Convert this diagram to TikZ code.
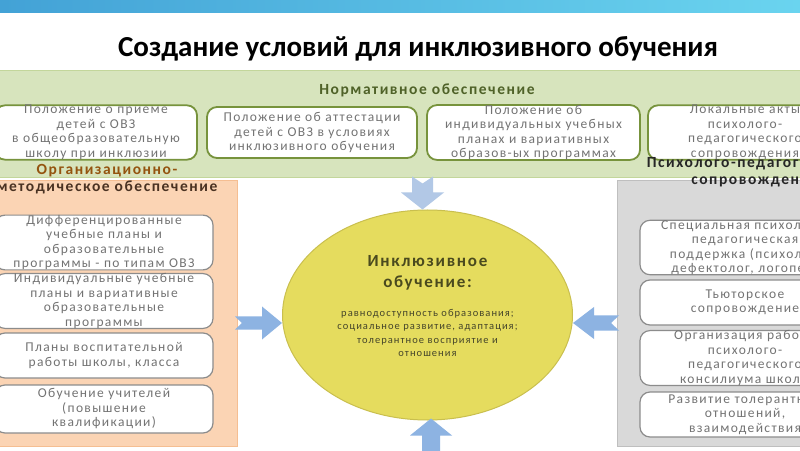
\documentclass[tikz,border=0pt]{standalone}
\usepackage{fontspec}
\setmainfont{Carlito}
\newfontfamily\spacedfont[LetterSpace=10]{Carlito}
\usetikzlibrary{shapes.geometric}

\definecolor{barleft}{HTML}{43A2D6}
\definecolor{barright}{HTML}{6AD4EF}
\definecolor{normfill}{HTML}{D7E4BD}
\definecolor{normline}{HTML}{C3D69B}
\definecolor{normedge}{HTML}{77933C}
\definecolor{normtext}{HTML}{4F6228}
\definecolor{orgfill}{HTML}{FBD4B4}
\definecolor{orgline}{HTML}{F5BE92}
\definecolor{orgheadA}{HTML}{94540F}
\definecolor{orgheadB}{HTML}{4A3222}
\definecolor{psyfill}{HTML}{D9D9D9}
\definecolor{psyline}{HTML}{BFBFBF}
\definecolor{psyhead}{HTML}{262626}
\definecolor{boxline}{HTML}{8C8C8C}
\definecolor{boxtext}{HTML}{737373}
\definecolor{circfill}{HTML}{E5DC5E}
\definecolor{circline}{HTML}{C9BF4E}
\definecolor{circtitle}{HTML}{4A4A1E}
\definecolor{circbody}{HTML}{45452A}
\definecolor{arrowblue}{HTML}{8DB3E2}
\definecolor{arrowlight}{HTML}{B2C8E6}

\tikzset{
  boxfont/.style={font=\spacedfont\fontsize{13.5}{14.5}\selectfont},
  headfont/.style={font=\spacedfont\bfseries\fontsize{15.5}{17}\selectfont},
  normbox/.style={draw=normedge, line width=1.8pt, fill=white, rounded corners=10pt,
    inner sep=0pt, minimum height=51pt, align=center, text=boxtext, boxfont},
  sidebox/.style={draw=boxline, line width=1.2pt, fill=white, rounded corners=10pt,
    inner sep=0pt, align=center, text=boxtext, boxfont},
  blockarrow/.style={fill=arrowblue},
}

\begin{document}
\begin{tikzpicture}[x=1pt, y=1pt]
\clip (0,0) rectangle (800,450);
\fill[white] (0,0) rectangle (800,450);

% top bar and title
\shade[left color=barleft, right color=barright] (0,437) rectangle (800,450);
\node (title) at (418,401) {\bfseries\fontsize{29}{32}\selectfont Создание условий для инклюзивного обучения};

% normative support
\node[draw=normline, fill=normfill, minimum width=812pt, minimum height=107pt] (normband) at (400,326.5) {};
\node[headfont, text=normtext] (normhead) at (427,360) {Нормативное обеспечение};

\node[normbox, minimum width=202pt, text width=195pt] (nb1) at (96,317.5)
  {Положение о приеме\\детей с ОВЗ\\в общеобразовательную\\школу при инклюзии};
\node[normbox, minimum width=210pt, text width=200pt] (nb2) at (312,317.5)
  {Положение об аттестации\\детей с ОВЗ в условиях\\инклюзивного обучения};
\node[normbox, minimum width=213pt, text width=205pt] (nb3) at (533.5,317.5)
  {Положение об\\индивидуальных учебных\\планах и вариативных\\образов-ых программах};
\node[normbox, minimum width=194pt, text width=185pt] (nb4) at (745,317.5)
  {Локальные акты\\психолого-\\педагогического\\сопровождения};

% organisational and methodical support
\node[draw=orgline, fill=orgfill, minimum width=242pt, minimum height=266pt] (orgpanel) at (116,137) {};
\node[headfont, align=center] (orghead) at (107,270.5)
  {\textcolor{orgheadA}{Организационно-}\\\textcolor{orgheadB}{методическое обеспечение}};

\node[sidebox, minimum width=218pt, text width=210pt, minimum height=51pt] (ob1) at (104,207.5)
  {Дифференцированные\\учебные планы и\\образовательные\\программы - по типам ОВЗ};
\node[sidebox, minimum width=218pt, text width=210pt, minimum height=52pt] (ob2) at (104,149)
  {Индивидуальные учебные\\планы и вариативные\\образовательные\\программы};
\node[sidebox, minimum width=218pt, text width=210pt, minimum height=45pt] (ob3) at (104,94.5)
  {Планы воспитательной\\работы школы, класса};
\node[sidebox, minimum width=218pt, text width=210pt, minimum height=48pt] (ob4) at (104,41)
  {Обучение учителей\\(повышение\\квалификации)};

% psychological and pedagogical support
\node[draw=psyline, fill=psyfill, minimum width=193pt, minimum height=266pt] (psypanel) at (713.5,137) {};
\node[headfont, align=center, text=psyhead] (psyhead) at (755,278)
  {Психолого-педагогическое\\сопровождение};

\node[sidebox, minimum width=210pt, text width=205pt, minimum height=49pt] (pb1) at (745,202.5)
  {Специальная психолого-\\педагогическая\\поддержка (психолог,\\дефектолог, логопед)};
\node[sidebox, minimum width=210pt, text width=205pt, minimum height=45pt] (pb2) at (745,147.5)
  {Тьюторское\\сопровождение};
\node[sidebox, minimum width=210pt, text width=205pt, minimum height=50pt] (pb3) at (745,92)
  {Организация работы\\психолого-\\педагогического\\консилиума школы};
\node[sidebox, minimum width=210pt, text width=205pt, minimum height=45pt] (pb4) at (745,35.5)
  {Развитие толерантных\\отношений,\\взаимодействия};

% centre
\node[ellipse, draw=circline, line width=1pt, fill=circfill, minimum width=290pt, minimum height=210pt] (circ) at (427.5,135) {};
\node[align=center, text=circtitle, font=\spacedfont\bfseries\fontsize{17}{21}\selectfont] (circhead) at (427.5,177)
  {Инклюзивное\\обучение:};
\node[align=center, text=circbody, font=\spacedfont\fontsize{10.5}{13.5}\selectfont] (circbody) at (427.5,117)
  {равнодоступность образования;\\социальное развитие, адаптация;\\толерантное восприятие и\\отношения};

% arrows into the centre
\fill[blockarrow] ([yshift=-8pt]circ.west) -- ++(-20,16.5) -- ++(0,-10) -- ++(-27,0)
  -- ++(7,-6.5) -- ++(-7,-6.5) -- ++(27,0) -- ++(0,-10) -- cycle;
\fill[blockarrow] ([yshift=-8pt]circ.east) -- ++(21,16) -- ++(0,-8.5) -- ++(25,0)
  -- ++(-8,-7.5) -- ++(8,-7.5) -- ++(-25,0) -- ++(0,-8.5) -- cycle;
\fill[arrowlight] ([xshift=-5pt]circ.north) -- ++(-21.5,17) -- ++(11,0) -- ++(0,16)
  -- ++(10.5,-7) -- ++(10.5,7) -- ++(0,-16) -- ++(11,0) -- cycle;
\fill[blockarrow] ([xshift=3.5pt,yshift=2pt]circ.south) -- ++(-21,-17) -- ++(12,0) -- ++(0,-20)
  -- ++(18,0) -- ++(0,20) -- ++(12,0) -- cycle;

\end{tikzpicture}
\end{document}
